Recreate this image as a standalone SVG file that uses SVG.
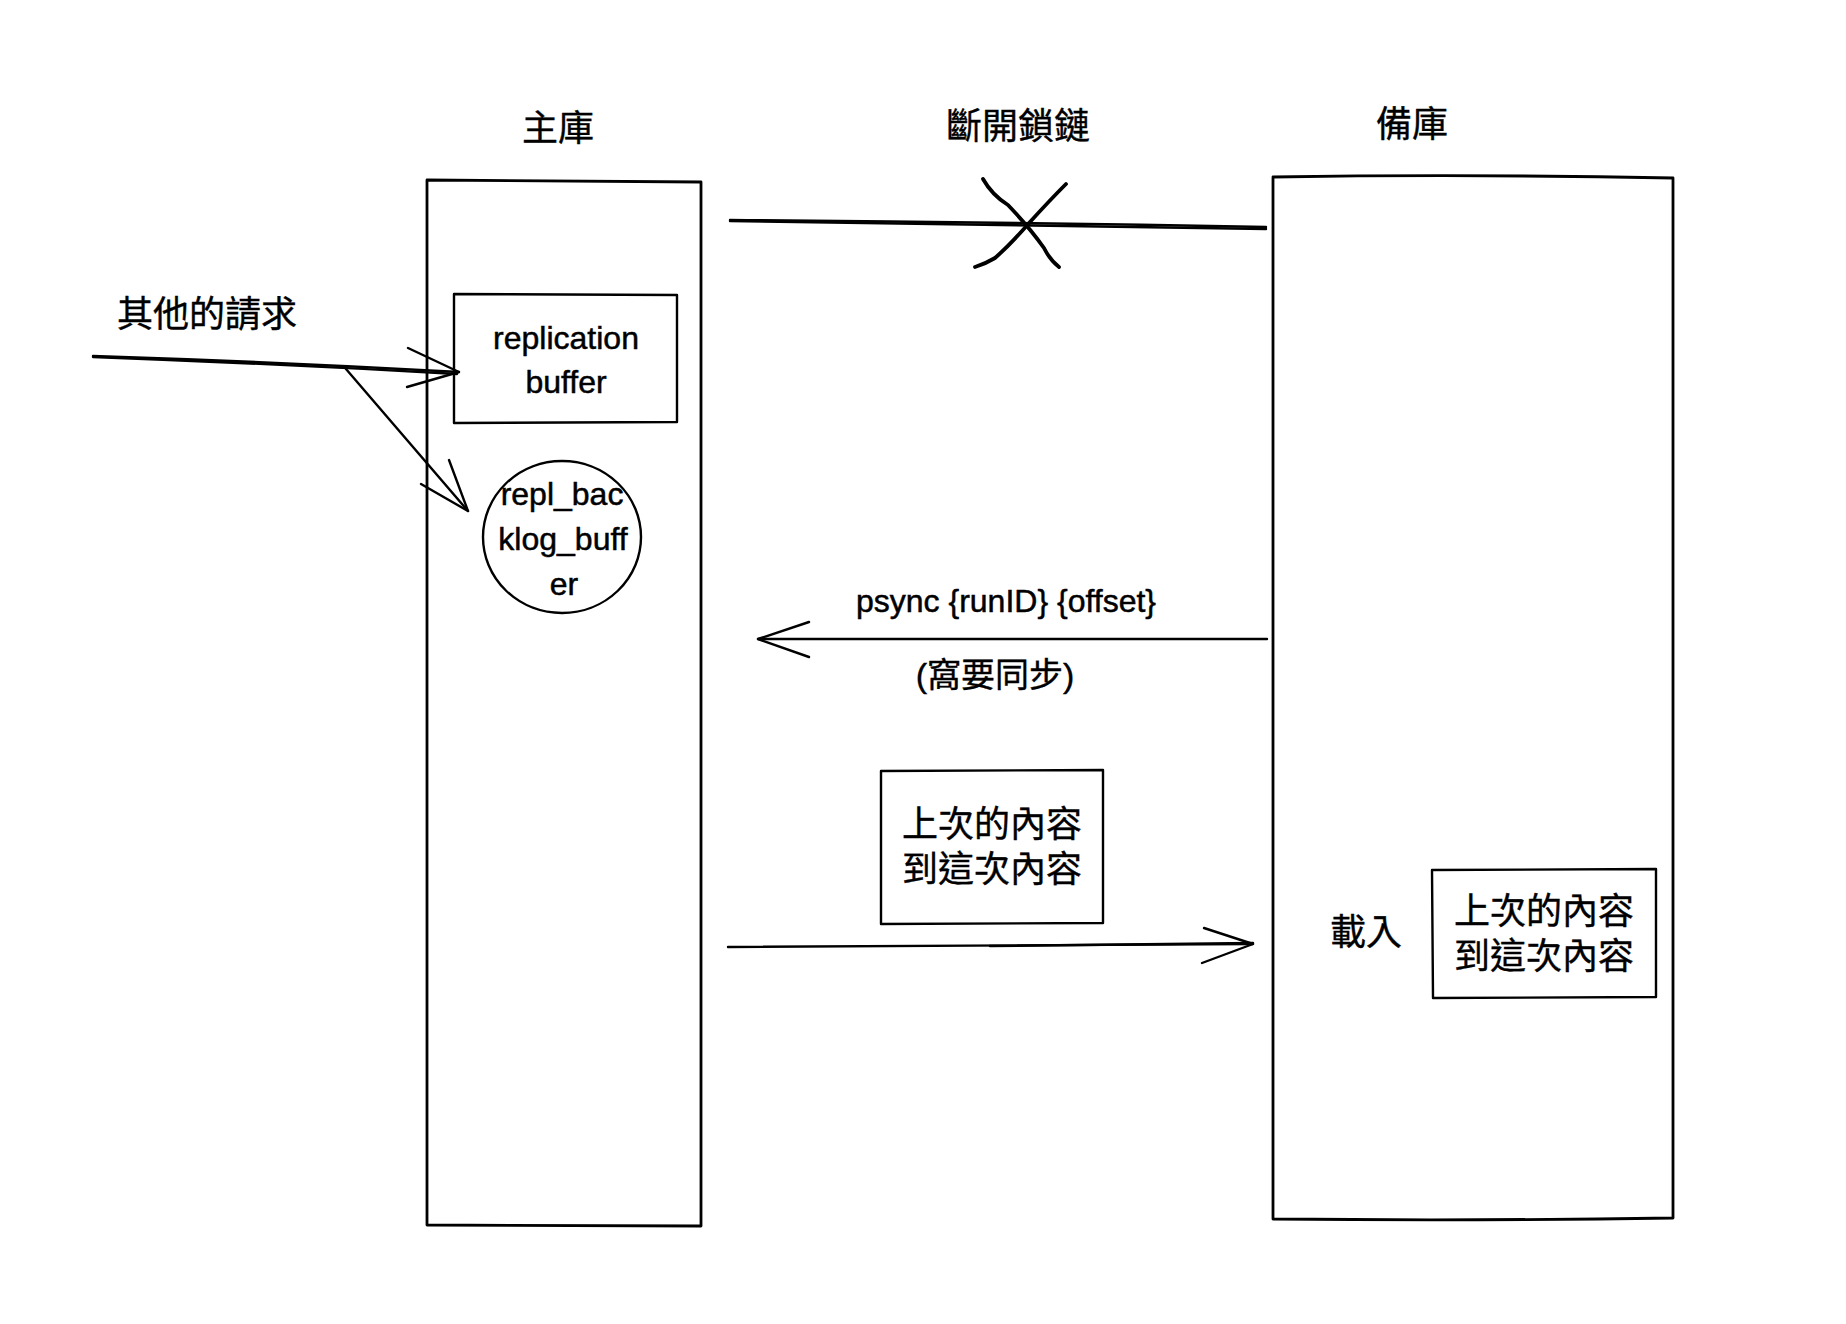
<svg xmlns="http://www.w3.org/2000/svg" width="1846" height="1324" viewBox="0 0 1846 1324">
<style>
.s{fill:none;stroke:#000;stroke-width:2.4;stroke-linecap:round;stroke-linejoin:round}
.b{fill:none;stroke:#000;stroke-width:2.8;stroke-linecap:round;stroke-linejoin:round}
.x{fill:none;stroke:#000;stroke-width:3.8;stroke-linecap:round;stroke-linejoin:round}
.cj{font-family:"Liberation Sans","Noto Sans CJK TC",sans-serif;font-size:36px;fill:#000;stroke:#000;stroke-width:0.4;text-anchor:middle;dominant-baseline:central}
.la{font-family:"Liberation Sans","Noto Sans CJK TC",sans-serif;font-size:32px;fill:#000;stroke:#000;stroke-width:0.5;text-anchor:middle;dominant-baseline:central}
</style>
<rect width="1846" height="1324" fill="#fff"/>
<g id="master">
<path class="b" d="M427 180 L701 182 L701 1226 L427 1225 Z"/>
<text class="cj" x="558" y="128">主庫</text>
</g>
<g id="replica">
<path class="b" d="M1273 177 Q1470 174 1673 178 L1673 1218 Q1470 1221 1273 1219 Z"/>
<text class="cj" x="1412" y="124">備庫</text>
</g>
<g id="replication-buffer">
<path class="s" d="M454 294 L677 295 L677 422 L454 423 Z"/>
<text class="la" x="566" y="338">replication</text>
<text class="la" x="566" y="382">buffer</text>
</g>
<g id="backlog-buffer">
<ellipse class="s" cx="562" cy="537" rx="79" ry="76"/>
<text class="la" x="562" y="494">repl_bac</text>
<text class="la" x="563" y="539">klog_buff</text>
<text class="la" x="564" y="584">er</text>
</g>
<g id="other-requests">
<text class="cj" x="207" y="314">其他的請求</text>
</g>
<g id="disconnect-label">
<text class="cj" x="1018" y="126">斷開鎖鏈</text>
</g>
<g id="diff-box">
<path class="s" d="M881 771 L1103 770 L1103 923 L881 924 Z"/>
<text class="cj" x="992" y="824">上次的內容</text>
<text class="cj" x="992" y="869">到這次內容</text>
</g>
<g id="load">
<text class="cj" x="1366" y="932">載入</text>
</g>
<g id="replica-diff-box">
<path class="s" d="M1432 870 L1656 869 L1656 997 L1433 998 Z"/>
<text class="cj" x="1544" y="911">上次的內容</text>
<text class="cj" x="1544" y="956">到這次內容</text>
</g>
<g id="connectors">
<path class="s" d="M93 356 Q280 362 459 372"/>
<path class="s" d="M93 357 Q280 364 457 374" stroke-width="1.2"/>
<path class="s" d="M408 348 L459 372 L407 387"/>
<path class="s" d="M346 369 L468 511"/>
<path class="s" d="M449 460 L468 511 L421 484"/>
<path class="s" d="M730 220 Q1000 222 1266 227"/>
<path class="s" d="M730 221 Q1000 225 1266 229" stroke-width="1.2"/>
<path class="x" d="M983 179 Q992 195 1008 205 Q1030 228 1044 248 Q1050 260 1059 267"/>
<path class="x" d="M1066 184 Q1050 200 1030 222 Q1010 245 995 258 Q985 264 975 267"/>
<path class="s" d="M1267 639 L758 639"/>
<path class="s" d="M809 622 L758 639 L809 657"/>
<text class="la" x="1006" y="601" font-size="33.5">psync {runID} {offset}</text>
<text class="cj" x="995" y="675" style="font-size:34px">(窩要同步)</text>
<path class="s" d="M728 947 Q990 945 1253 944"/>
<path class="s" d="M990 946 Q1120 945 1253 943" stroke-width="1.2"/>
<path class="s" d="M1204 928 L1253 944 L1202 963"/>
</g>
</svg>
